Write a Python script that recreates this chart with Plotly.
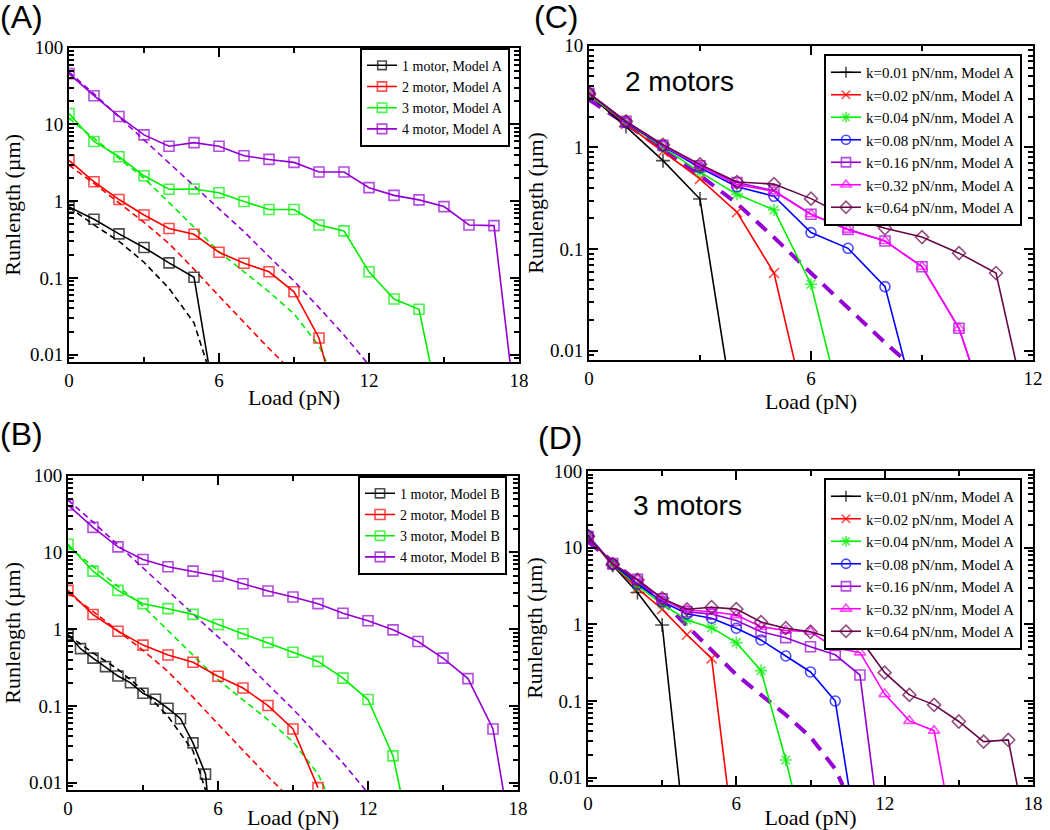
import plotly.graph_objects as go

# ---- data ----
# theory curves (dashed), shared by the panels
load_th1 = [0, 1, 2, 3, 4, 5, 5.5]
th1 = [0.84, 0.49, 0.30, 0.16, 0.073, 0.026, 0.008]
load_th2 = [0, 1, 2, 3, 4, 5, 6, 7, 8, 8.55]
th2 = [2.95, 1.7, 0.95, 0.53, 0.28, 0.13, 0.058, 0.026, 0.012, 0.008]
load_th3 = [0, 1, 2, 3, 4, 5, 6, 7, 8, 9, 10, 10.3]
th3 = [12, 6.5, 3.6, 2.0, 0.95, 0.45, 0.22, 0.12, 0.066, 0.034, 0.013, 0.008]
load_th4 = [0, 1, 2, 3, 4, 5, 6, 7, 8, 9, 10, 11, 11.9]
th4 = [48, 25, 12.5, 6.3, 3.2, 1.6, 0.80, 0.40, 0.19, 0.091, 0.041, 0.018, 0.008]

# (A) simulations, Model A  (last point = where the line leaves the axis)
load_a1 = [0, 1, 2, 3, 4, 5, 5.57]
a1 = [0.84, 0.58, 0.375, 0.249, 0.157, 0.102, 0.008]
load_a2 = [0, 1, 2, 3, 4, 5, 6, 7, 8, 9, 10, 10.24]
a2 = [3.4, 1.79, 1.05, 0.66, 0.44, 0.37, 0.216, 0.155, 0.12, 0.066, 0.0165, 0.008]
load_a3 = [0, 1, 2, 3, 4, 5, 6, 7, 8, 9, 10, 11, 12, 13, 14, 14.44]
a3 = [13.9, 6.0, 3.8, 2.14, 1.43, 1.44, 1.29, 0.99, 0.78, 0.78, 0.49, 0.41,
      0.12, 0.053, 0.039, 0.008]
load_a4 = [0, 1, 2, 3, 4, 5, 6, 7, 8, 9, 10, 11, 12, 13, 14, 15, 16, 17, 17.64]
a4 = [46, 23.7, 12.7, 7.3, 5.2, 5.8, 5.2, 3.9, 3.5, 3.2, 2.4, 2.4, 1.5, 1.19,
      1.04, 0.85, 0.49, 0.48, 0.008]

# (B) simulations, Model B
load_b1 = [0, 0.5, 1, 1.5, 2, 2.5, 3, 3.5, 4, 4.5, 5, 5.5, 5.56]
b1 = [0.85, 0.557, 0.42, 0.325, 0.245, 0.20, 0.146, 0.122, 0.093, 0.068,
      0.033, 0.0129, 0.008]
load_b2 = [0, 1, 2, 3, 4, 5, 6, 7, 8, 9, 10]
b2 = [3.2, 1.55, 0.94, 0.62, 0.46, 0.37, 0.243, 0.171, 0.101, 0.050, 0.0086]
load_b3 = [0, 1, 2, 3, 4, 5, 6, 7, 8, 9, 10, 11, 12, 13, 13.29]
b3 = [12.8, 5.7, 3.2, 2.15, 1.85, 1.56, 1.15, 0.87, 0.67, 0.50, 0.38, 0.23,
      0.121, 0.0223, 0.008]
load_b4 = [0, 1, 2, 3, 4, 5, 6, 7, 8, 9, 10, 11, 12, 13, 14, 15, 16, 17, 17.41]
b4 = [41.5, 21.2, 11.8, 8.1, 6.5, 5.7, 4.9, 3.9, 3.15, 2.63, 2.15, 1.61, 1.29,
      0.98, 0.69, 0.42, 0.227, 0.050, 0.008]

k_labels = ["k=0.01 pN/nm, Model A", "k=0.02 pN/nm, Model A",
            "k=0.04 pN/nm, Model A", "k=0.08 pN/nm, Model A",
            "k=0.16 pN/nm, Model A", "k=0.32 pN/nm, Model A",
            "k=0.64 pN/nm, Model A"]

# (C) 2 motors, different stiffness
load_c = [
    [0, 1, 2, 3, 3.69],
    [0, 1, 2, 3, 4, 5, 5.55],
    [0, 1, 2, 3, 4, 5, 6, 6.51],
    [0, 1, 2, 3, 4, 5, 6, 7, 8, 8.52],
    [0, 1, 2, 3, 4, 5, 6, 7, 8, 9, 10, 10.29],
    [0, 1, 2, 3, 4, 5, 6, 7, 8, 9, 10, 10.29],
    [0, 1, 2, 3, 4, 5, 6, 7, 8, 9, 10, 11, 11.53],
]
run_c = [
    [3.3, 1.6, 0.74, 0.31, 0.008],
    [3.3, 1.7, 0.91, 0.49, 0.23, 0.058, 0.008],
    [3.3, 1.75, 1.0, 0.57, 0.345, 0.242, 0.045, 0.008],
    [3.4, 1.75, 1.03, 0.63, 0.41, 0.33, 0.145, 0.1016, 0.0426, 0.008],
    [3.4, 1.8, 1.05, 0.66, 0.45, 0.375, 0.22, 0.156, 0.12, 0.067, 0.0166, 0.008],
    [3.4, 1.8, 1.05, 0.66, 0.43, 0.37, 0.22, 0.155, 0.12, 0.067, 0.0166, 0.008],
    [3.4, 1.8, 1.06, 0.68, 0.456, 0.435, 0.313, 0.205, 0.16, 0.131, 0.091,
     0.058, 0.008],
]

# (D) 3 motors, different stiffness
load_d = [
    [0, 1, 2, 3, 3.7],
    [0, 1, 2, 3, 4, 5, 5.63],
    [0, 1, 2, 3, 4, 5, 6, 7, 8, 8.25],
    [0, 1, 2, 3, 4, 5, 6, 7, 8, 9, 10, 10.54],
    [0, 1, 2, 3, 4, 5, 6, 7, 8, 9, 10, 11, 11.57],
    [0, 1, 2, 3, 4, 5, 6, 7, 8, 9, 10, 11, 12, 13, 14, 14.4],
    [0, 1, 2, 3, 4, 5, 6, 7, 8, 9, 10, 11, 12, 13, 14, 15, 16, 17, 17.36],
]
run_d = [
    [14.2, 5.9, 2.6, 0.98, 0.008],
    [14, 6.0, 2.95, 1.58, 0.73, 0.36, 0.008],
    [14, 6.0, 3.2, 1.84, 1.14, 0.905, 0.577, 0.249, 0.017, 0.008],
    [14.5, 6.1, 3.36, 1.98, 1.37, 1.2, 0.89, 0.625, 0.386, 0.239, 0.1, 0.008],
    [14, 6.2, 3.86, 2.16, 1.46, 1.36, 1.12, 0.80, 0.67, 0.51, 0.40, 0.218, 0.008],
    [14, 6.2, 3.8, 2.1, 1.54, 1.46, 1.32, 0.93, 0.83, 0.80, 0.49, 0.43, 0.123,
     0.055, 0.041, 0.008],
    [14, 6.1, 3.8, 2.18, 1.57, 1.67, 1.58, 1.07, 0.89, 0.80, 0.64, 0.65, 0.234,
     0.12, 0.089, 0.054, 0.0295, 0.031, 0.008],
]

# ---- styles ----
BLACK, RED, GREEN, BLUE = "#000000", "#ff0000", "#00ee00", "#0000ff"
VIOLET, MAGENTA, MAROON = "#9400d3", "#ff00ff", "#670748"
SERIF = "Liberation Serif"
SANS = "Liberation Sans"
EDGE = 0.008  # runlength value marking the bottom edge of the axis

k_colors = [BLACK, RED, GREEN, BLUE, VIOLET, MAGENTA, MAROON]
k_symbols = ["cross-thin-open", "x-thin-open", "asterisk-open", "circle-open",
             "square-open", "triangle-up-open", "diamond-open"]

fig = go.Figure()


def dashed(x, y, color, xa, ya, width=1.6, dash="6px,4px"):
    fig.add_trace(go.Scatter(x=x, y=y, mode="lines", xaxis=xa, yaxis=ya,
                             line=dict(color=color, width=width, dash=dash),
                             showlegend=False, hoverinfo="skip"))


def sim(x, y, color, name, xa, ya, legend, symbol, size=10):
    # markers on the real points, no marker where the line leaves the axis
    sizes = [0 if v <= EDGE else size for v in y]
    fig.add_trace(go.Scatter(
        x=x, y=y, mode="lines+markers", name=name, xaxis=xa, yaxis=ya,
        legend=legend, line=dict(color=color, width=1.6),
        marker=dict(symbol=symbol, size=sizes, color=color,
                    line=dict(color=color, width=1.6))))


# panel A
for lx, ly, c in [(load_th1, th1, BLACK), (load_th2, th2, RED),
                  (load_th3, th3, GREEN), (load_th4, th4, VIOLET)]:
    dashed(lx, ly, c, "x", "y")
for lx, ly, c, n in [(load_a1, a1, BLACK, "1 motor, Model A"),
                     (load_a2, a2, RED, "2 motor, Model A"),
                     (load_a3, a3, GREEN, "3 motor, Model A"),
                     (load_a4, a4, VIOLET, "4 motor, Model A")]:
    sim(lx, ly, c, n, "x", "y", "legend", "square-open")

# panel B
for lx, ly, c in [(load_th1, th1, BLACK), (load_th2, th2, RED),
                  (load_th3, th3, GREEN), (load_th4, th4, VIOLET)]:
    dashed(lx, ly, c, "x3", "y3")
for lx, ly, c, n in [(load_b1, b1, BLACK, "1 motor, Model B"),
                     (load_b2, b2, RED, "2 motor, Model B"),
                     (load_b3, b3, GREEN, "3 motor, Model B"),
                     (load_b4, b4, VIOLET, "4 motor, Model B")]:
    sim(lx, ly, c, n, "x3", "y3", "legend3", "square-open")

# panel C
dashed(load_th2, th2, VIOLET, "x2", "y2", width=4, dash="14px,9px")
for i in range(7):
    sim(load_c[i], run_c[i], k_colors[i], k_labels[i], "x2", "y2",
        "legend2", k_symbols[i])

# panel D
dashed(load_th3, th3, VIOLET, "x4", "y4", width=4, dash="14px,9px")
for i in range(7):
    sim(load_d[i], run_d[i], k_colors[i], k_labels[i], "x4", "y4",
        "legend4", k_symbols[i])

# ---- axes ----
W, H = 1050, 830


def xd(a, b):
    return [a / W, b / W]


def yd(top, bottom):
    return [1 - bottom / H, 1 - top / H]


def minor_log(lo, hi):
    return [m * 10 ** e for e in range(lo, hi) for m in range(2, 10)]


tickfont = dict(family=SERIF, size=19, color="black")
titlefont = dict(family=SERIF, size=22, color="black")


def xaxis(dom, anchor, rng):
    return dict(domain=dom, anchor=anchor, range=rng, dtick=6, tick0=0,
                automargin=False,
                ticks="inside", ticklen=9, tickwidth=1.5, tickcolor="black",
                minor=dict(dtick=3, tick0=0, ticks="inside", ticklen=5,
                           tickwidth=1.5, tickcolor="black"),
                showline=True, linewidth=2, linecolor="black",
                mirror="allticks", showgrid=False, zeroline=False,
                tickfont=tickfont,
                title=dict(text="Load (pN)", font=titlefont, standoff=0))


def yaxis(dom, anchor, top_dec, rng, standoff):
    vals = [10 ** e for e in range(-2, top_dec + 1)]
    text = ["0.01", "0.1", "1", "10", "100"][:len(vals)]
    return dict(domain=dom, anchor=anchor, type="log", range=rng,
                automargin=False,
                tickmode="array", tickvals=vals, ticktext=text,
                ticks="inside", ticklen=9, tickwidth=1.5, tickcolor="black",
                minor=dict(tickmode="array", tickvals=minor_log(-3, top_dec),
                           ticks="inside", ticklen=5, tickwidth=1.5,
                           tickcolor="black"),
                showline=True, linewidth=2, linecolor="black",
                mirror="allticks", showgrid=False, zeroline=False,
                tickfont=tickfont,
                title=dict(text="Runlength (µm)", font=titlefont,
                           standoff=standoff))


def legend(right, top, size):
    return dict(x=right / W, xanchor="right", y=1 - top / H, yanchor="top",
                bgcolor="white", bordercolor="black", borderwidth=2,
                font=dict(family=SERIF, size=size, color="black"),
                tracegroupgap=0, itemwidth=30)


fig.update_layout(
    width=W, height=H, paper_bgcolor="white", plot_bgcolor="white",
    margin=dict(l=0, r=0, t=0, b=0, autoexpand=False), showlegend=True,
    xaxis=xaxis(xd(69, 519), "y", [0, 18]),
    yaxis=yaxis(yd(47.7, 362), "x", 2, [-2.096, 2], 4),
    xaxis2=xaxis(xd(589, 1033), "y2", [0, 12]),
    yaxis2=yaxis(yd(45.7, 360), "x2", 1, [-2.092, 1], 0),
    xaxis3=xaxis(xd(68, 518), "y3", [0, 18]),
    yaxis3=yaxis(yd(475.7, 790), "x3", 2, [-2.096, 2], 4),
    xaxis4=xaxis(xd(588, 1033), "y4", [0, 18]),
    yaxis4=yaxis(yd(471, 785), "x4", 2, [-2.096, 2], 0),
    legend=legend(510, 47.7, 14),
    legend2=legend(1022, 54, 15),
    legend3=legend(507, 475.7, 14),
    legend4=legend(1022, 478, 15),
)

labels = [("(A)", -2, -3), ("(C)", 532, -3), ("(B)", -2, 414), ("(D)", 536, 418)]
for txt, px, py in labels:
    fig.add_annotation(text=txt, x=px / W, y=1 - py / H, xref="paper",
                       yref="paper", xanchor="left", yanchor="top",
                       showarrow=False,
                       font=dict(family=SANS, size=32, color="black"))

for txt, px, py in [("2 motors", 623, 82), ("3 motors", 631, 505)]:
    fig.add_annotation(text=txt, x=px / W, y=1 - py / H, xref="paper",
                       yref="paper", xanchor="left", yanchor="middle",
                       showarrow=False,
                       font=dict(family=SANS, size=28, color="black"))

# no default page margin, so the figure sits at the window's top-left corner
fig.write_html("out.html", config={"displayModeBar": False},
               post_script="document.body.style.margin='0';"
                           "document.body.style.overflow='hidden';")
